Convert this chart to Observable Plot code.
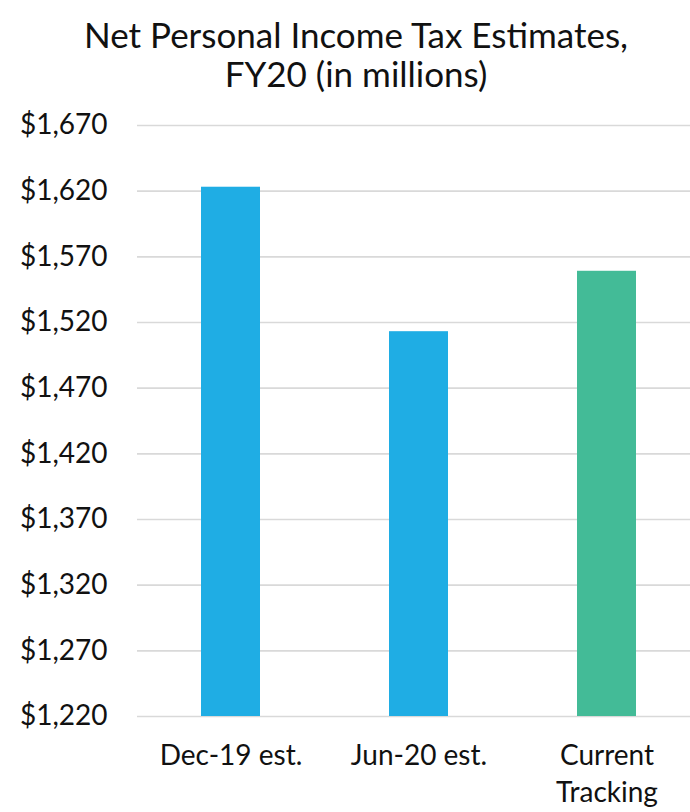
<!DOCTYPE html>
<html>
<head>
<meta charset="utf-8">
<script src="https://cdn.jsdelivr.net/npm/d3@7"></script>
<script src="https://cdn.jsdelivr.net/npm/@observablehq/plot@0.6"></script>
<style>
  html, body { margin: 0; padding: 0; background: #fff; }
  body { width: 690px; font-family: Lato, "Open Sans", sans-serif; }
  #title { height: 100px; box-sizing: border-box; padding-top: 15px; padding-left: 22px;
           text-align: center; font-size: 35px; line-height: 39px; color: #111; }
  svg { display: block; }
</style>
</head>
<body>
<div id="title">Net Personal Income Tax Estimates,<br>FY20 (in millions)</div>
<div id="chart"></div>
<script>
const categories = ["Dec-19 est.", "Jun-20 est.", "Current\nTracking"];
const values = [1623, 1513, 1559];
const colors = ["#1FADE4", "#1FADE4", "#43BB97"];
const yTicks = [1220, 1270, 1320, 1370, 1420, 1470, 1520, 1570, 1620, 1670];

const data = categories.map((c, i) => ({category: c, value: values[i], color: colors[i]}));

const chart = Plot.plot({
  width: 690,
  height: 712,
  marginTop: 25,
  marginBottom: 96,
  marginLeft: 137,
  marginRight: 0,
  style: {fontFamily: "Lato, 'Open Sans', sans-serif", background: "#fff"},
  x: {domain: categories, range: [137, 701], paddingInner: 0.686, paddingOuter: 0.343, axis: null},
  y: {domain: [1220, 1670], axis: null},
  marks: [
    Plot.ruleY(yTicks, {stroke: "#d9d9d9", strokeWidth: 1.6}),
    Plot.barY(data, {x: "category", y1: 1220, y2: "value", fill: "color"}),
    Plot.text(yTicks, {y: d => d, text: d => d3.format("$,.0f")(d), frameAnchor: "left", textAnchor: "end",
      dx: -30, fontSize: 28, fill: "#111"}),
    Plot.text(data, {x: "category", text: "category", frameAnchor: "bottom", lineAnchor: "top",
      dy: 22, fontSize: 28, lineHeight: 1.32, fill: "#111"})
  ]
});
document.getElementById("chart").appendChild(chart);
</script>
</body>
</html>
